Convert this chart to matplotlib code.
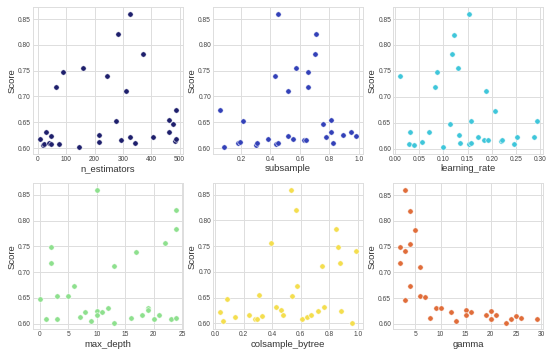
import matplotlib
matplotlib.use("Agg")
import matplotlib.pyplot as plt
import seaborn as sns

sns.set_theme(style="whitegrid")
plt.rcParams['font.family'] = ['Liberation Sans', 'DejaVu Sans']

n_estimators = [7, 17, 21, 30, 41, 47, 45, 63, 73, 89, 146, 158, 217, 217, 244, 275, 284, 292, 309, 326, 326, 344, 370, 406, 461, 464, 476, 484, 487, 488]
n_estimators_score = [0.617, 0.606, 0.608, 0.631, 0.610, 0.623, 0.608, 0.718, 0.608, 0.748, 0.602, 0.756, 0.626, 0.611, 0.740, 0.653, 0.820, 0.616, 0.711, 0.860, 0.622, 0.609, 0.783, 0.622, 0.631, 0.654, 0.647, 0.614, 0.617, 0.673]

subsample = [0.057, 0.084, 0.180, 0.191, 0.216, 0.302, 0.311, 0.386, 0.434, 0.441, 0.452, 0.450, 0.520, 0.520, 0.555, 0.573, 0.627, 0.643, 0.652, 0.657, 0.702, 0.711, 0.759, 0.775, 0.809, 0.811, 0.825, 0.891, 0.948, 0.984]
subsample_score = [0.673, 0.602, 0.609, 0.611, 0.653, 0.605, 0.609, 0.617, 0.740, 0.608, 0.610, 0.860, 0.711, 0.623, 0.617, 0.756, 0.616, 0.615, 0.748, 0.718, 0.783, 0.820, 0.647, 0.622, 0.631, 0.654, 0.609, 0.626, 0.631, 0.623]

learning_rate = [0.011, 0.030, 0.032, 0.039, 0.057, 0.070, 0.083, 0.086, 0.100, 0.113, 0.118, 0.121, 0.130, 0.133, 0.134, 0.152, 0.152, 0.158, 0.156, 0.172, 0.183, 0.187, 0.191, 0.207, 0.218, 0.221, 0.246, 0.251, 0.286, 0.292]
learning_rate_score = [0.740, 0.609, 0.631, 0.606, 0.612, 0.631, 0.718, 0.748, 0.603, 0.647, 0.783, 0.820, 0.756, 0.626, 0.611, 0.860, 0.609, 0.610, 0.654, 0.622, 0.617, 0.711, 0.617, 0.673, 0.615, 0.616, 0.609, 0.623, 0.623, 0.653]

max_depth = [0, 1, 2, 2, 3, 3, 5, 6, 7, 8, 9, 10, 10, 10, 11, 12, 13, 13, 16, 17, 18, 19, 19, 20, 21, 22, 23, 24, 24, 24]
max_depth_score = [0.648, 0.609, 0.749, 0.718, 0.654, 0.609, 0.653, 0.673, 0.614, 0.622, 0.605, 0.860, 0.625, 0.617, 0.622, 0.631, 0.711, 0.602, 0.612, 0.740, 0.617, 0.631, 0.626, 0.610, 0.617, 0.756, 0.609, 0.611, 0.783, 0.820]

colsample_bytree = [0.035, 0.054, 0.084, 0.143, 0.238, 0.278, 0.292, 0.306, 0.329, 0.390, 0.428, 0.460, 0.474, 0.530, 0.542, 0.568, 0.572, 0.607, 0.647, 0.671, 0.722, 0.752, 0.762, 0.850, 0.862, 0.876, 0.883, 0.963, 0.991]
colsample_bytree_score = [0.622, 0.605, 0.648, 0.612, 0.617, 0.609, 0.609, 0.654, 0.614, 0.756, 0.631, 0.626, 0.617, 0.860, 0.653, 0.820, 0.673, 0.609, 0.612, 0.617, 0.624, 0.711, 0.631, 0.783, 0.749, 0.718, 0.623, 0.601, 0.740]

gamma = [1.95, 1.95, 2.9, 2.9, 2.9, 3.9, 3.9, 3.9, 4.9, 5.9, 6.0, 6.9, 7.9, 9.0, 10.0, 12.0, 13.0, 15.0, 15.0, 16.0, 19.0, 20.0, 20.0, 20.0, 21.0, 23.0, 24.0, 25.0, 26.0, 29.1]
gamma_score = [0.749, 0.718, 0.861, 0.741, 0.647, 0.820, 0.756, 0.673, 0.783, 0.711, 0.654, 0.653, 0.612, 0.631, 0.631, 0.622, 0.606, 0.626, 0.617, 0.622, 0.617, 0.624, 0.610, 0.609, 0.617, 0.602, 0.610, 0.615, 0.611, 0.609]

params = ["n_estimators", "subsample", "learning_rate", "max_depth", "colsample_bytree", "gamma"]
xs = [n_estimators, subsample, learning_rate, max_depth, colsample_bytree, gamma]
ys = [n_estimators_score, subsample_score, learning_rate_score, max_depth_score, colsample_bytree_score, gamma_score]
colors = ["#1e1f6c", "#3341b8", "#3fc6da", "#8ee08e", "#f4de4e", "#e06d3a"]

xticks = [
    [0, 100, 200, 300, 400, 500],
    [0.2, 0.4, 0.6, 0.8, 1.0],
    [0.0, 0.05, 0.10, 0.15, 0.20, 0.25, 0.30],
    [0, 5, 10, 15, 20, 25],
    [0.0, 0.2, 0.4, 0.6, 0.8, 1.0],
    [5, 10, 15, 20, 25, 30],
]
xfmt = ["{:.0f}", "{:.1f}", "{:.2f}", "{:.0f}", "{:.1f}", "{:.0f}"]
yticks = [0.60, 0.65, 0.70, 0.75, 0.80, 0.85]

fig, axes = plt.subplots(2, 3, figsize=(5.5, 3.6), dpi=100)
fig.subplots_adjust(left=0.06, right=0.988, top=0.98, bottom=0.085, wspace=0.2, hspace=0.2)

for ax, p, x, y, c, xt, fm in zip(axes.flat, params, xs, ys, colors, xticks, xfmt):
    ax.scatter(x, y, s=15, color=c, edgecolor="white", linewidth=0.4, zorder=3)
    ax.set_xlabel(p, fontsize=6.8, labelpad=1, color="#333333")
    ax.set_ylabel("Score", fontsize=6.8, labelpad=1, color="#333333")
    ax.set_yticks(yticks)
    ax.set_yticklabels([f"{v:.2f}" for v in yticks])
    ax.set_xticks(xt)
    ax.set_xticklabels([fm.format(v) for v in xt])
    ax.tick_params(labelsize=4.8, pad=1.5, colors="#444444", length=0)
    ax.grid(True, color="#dddddd", linewidth=0.7)
    for s in ax.spines.values():
        s.set_color("#dddddd")
        s.set_linewidth(0.7)

for ax, x, y in zip(axes.flat, xs, ys):
    lo, hi = min(x), max(x)
    m = (hi - lo) * 0.05
    ax.set_xlim(lo - m, hi + m)
    lo, hi = min(y), max(y)
    m = (hi - lo) * 0.05
    ax.set_ylim(lo - m, hi + m)

fig.savefig("out.png", dpi=100)
